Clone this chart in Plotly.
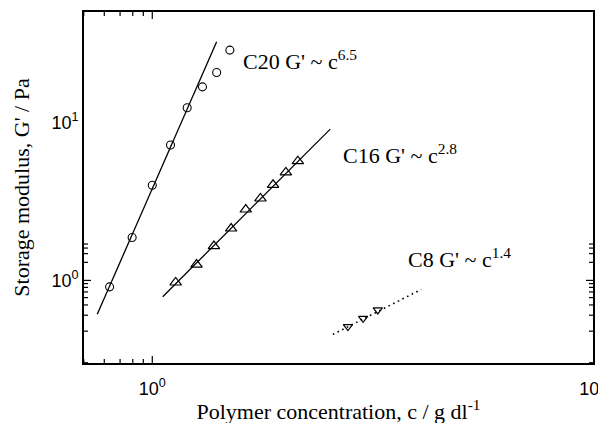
import math
import plotly.graph_objects as go

# ---- data ----
c20_x = [0.80, 0.90, 1.00, 1.10, 1.20, 1.30, 1.40, 1.50]
c20_y = [0.91, 1.87, 4.0, 7.2, 12.4, 16.8, 20.7, 28.7]
c20_fit_x = [0.75, 1.40]
c20_fit_y = [0.61, 32.4]

c16_x = [1.13, 1.26, 1.38, 1.51, 1.63, 1.76, 1.88, 2.01, 2.14]
c16_y = [0.97, 1.26, 1.65, 2.13, 2.81, 3.30, 4.03, 4.83, 5.69]
c16_fit_x = [1.056, 2.535]
c16_fit_y = [0.788, 9.07]

c8_x = [2.78, 3.01, 3.25]
c8_y = [0.51, 0.575, 0.65]
c8_fit_x = [2.57, 4.08]
c8_fit_y = [0.455, 0.877]

x_tickvals = [1, 10]
x_ticktext = ["10<sup>0</sup>", "10<sup>1</sup>"]
x_minor = [0.7, 0.8, 0.9, 2, 3, 4, 5, 6, 7, 8, 9]
y_tickvals = [1, 10]
y_ticktext = ["10<sup>0</sup>", "10<sup>1</sup>"]
y_minor = [0.3, 0.4, 0.5, 0.6, 0.7, 0.8, 0.9, 2, 3, 4, 5, 6, 7, 8, 9, 20, 30, 40, 50]

label_x = [1.591, 2.685, 3.758]
label_y = [24.9, 6.3, 1.39]
label_text = ["C20 G' ~ c<sup>6.5</sup>", "C16 G' ~ c<sup>2.8</sup>", "C8 G' ~ c<sup>1.4</sup>"]

SERIF = "Liberation Serif, Times New Roman, serif"
SANS = "Liberation Sans, Arial, sans-serif"

X_RANGE = [-0.155, 1.0004]
Y_RANGE = [-0.523, 1.6992]

W, H = 606, 423
M = dict(l=76, r=21, t=4, b=68)
PW = W - M["l"] - M["r"]
PH = H - M["t"] - M["b"]
MAJ, MIN = 7, 4  # tick lengths in px

fig = go.Figure()

fig.add_trace(go.Scatter(x=c20_fit_x, y=c20_fit_y, mode="lines",
                         line=dict(color="black", width=1.3)))
fig.add_trace(go.Scatter(x=c20_x, y=c20_y, mode="markers",
                         marker=dict(symbol="circle-open", size=8, color="black",
                                     line=dict(width=1.1, color="black"))))
fig.add_trace(go.Scatter(x=c16_fit_x, y=c16_fit_y, mode="lines",
                         line=dict(color="black", width=1.3)))
fig.add_trace(go.Scatter(x=c16_x, y=c16_y, mode="markers",
                         marker=dict(symbol="triangle-up-open", size=10, color="black",
                                     line=dict(width=1.2, color="black"))))
fig.add_trace(go.Scatter(x=c8_fit_x, y=c8_fit_y, mode="lines",
                         line=dict(color="black", width=1.6, dash="1.6px,3.6px")))
fig.add_trace(go.Scatter(x=c8_x, y=c8_y, mode="markers",
                         marker=dict(symbol="triangle-down-open", size=8, color="black",
                                     line=dict(width=1.2, color="black"))))

for lx, ly, txt in zip(label_x, label_y, label_text):
    fig.add_annotation(x=math.log10(lx), y=math.log10(ly), xref="x", yref="y",
                       text=txt, showarrow=False, xanchor="left", yanchor="middle",
                       font=dict(family=SERIF, size=22, color="black"))

# inward ticks on all four sides (drawn as axis-referenced segments)
tick_line = dict(color="black", width=1.2)
for vals, ln in ((x_tickvals, MAJ), (x_minor, MIN)):
    f = ln / PH
    for v in vals:
        lv = math.log10(v)
        fig.add_shape(type="line", xref="x", yref="y domain", x0=lv, x1=lv, y0=0, y1=f,
                      line=tick_line, layer="above")
        fig.add_shape(type="line", xref="x", yref="y domain", x0=lv, x1=lv, y0=1, y1=1 - f,
                      line=tick_line, layer="above")
for vals, ln in ((y_tickvals, MAJ), (y_minor, MIN)):
    f = ln / PW
    for v in vals:
        lv = math.log10(v)
        fig.add_shape(type="line", yref="y", xref="x domain", y0=lv, y1=lv, x0=0, x1=f,
                      line=tick_line, layer="above")
        fig.add_shape(type="line", yref="y", xref="x domain", y0=lv, y1=lv, x0=1, x1=1 - f,
                      line=tick_line, layer="above")

axis_common = dict(
    type="log", showgrid=False, zeroline=False,
    showline=True, linecolor="black", linewidth=1.8, mirror=True,
    ticks="", tickfont=dict(family=SANS, size=18, color="black"),
    ticklabeloverflow="allow",
)

fig.update_layout(
    xaxis=dict(**axis_common, range=X_RANGE,
               tickmode="array", tickvals=x_tickvals, ticktext=x_ticktext,
               ticklabelstandoff=8,
               title=dict(text="Polymer concentration, c / g dl<sup>-1</sup>",
                          font=dict(family=SERIF, size=22, color="black"), standoff=6)),
    yaxis=dict(**axis_common, range=Y_RANGE,
               tickmode="array", tickvals=y_tickvals, ticktext=y_ticktext,
               ticklabelstandoff=0,
               title=dict(text="Storage modulus, G' / Pa",
                          font=dict(family=SERIF, size=22, color="black"), standoff=16)),
)

# page body has an 8px margin, so the figure is offset by (8, 8) in the window
fig.update_layout(
    width=W, height=H,
    margin=dict(**M, autoexpand=False),
    paper_bgcolor="white", plot_bgcolor="white",
    showlegend=False,
)

fig.write_html("out.html")
